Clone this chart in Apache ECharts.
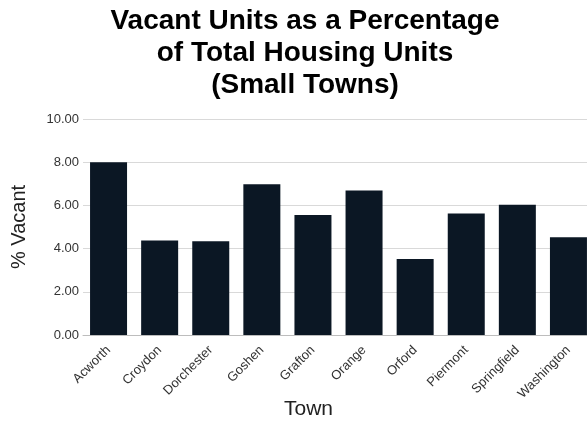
<!DOCTYPE html>
<html>
<head>
<meta charset="utf-8">
<script src="https://cdn.jsdelivr.net/npm/echarts@6/dist/echarts.min.js"></script>
<style>
  html, body { margin: 0; padding: 0; background: #fff; }
  #chart { width: 587px; height: 423px; }
</style>
</head>
<body>
<div id="chart"></div>
<script>
// Vacancy rates for small towns
const towns = ['Acworth', 'Croydon', 'Dorchester', 'Goshen', 'Grafton', 'Orange', 'Orford', 'Piermont', 'Springfield', 'Washington'];
const vacantPct = [8.00, 4.38, 4.34, 6.98, 5.55, 6.69, 3.52, 5.63, 6.03, 4.53];
const yTicks = { min: 0, max: 10, step: 2 };

const FONT = '"Liberation Sans", Arial, sans-serif';

const chart = echarts.init(document.getElementById('chart'), null, { renderer: 'canvas' });
chart.setOption({
  animation: false,
  backgroundColor: '#ffffff',
  title: {
    text: 'Vacant Units as a Percentage\nof Total Housing Units\n(Small Towns)',
    left: 300,
    top: 0,
    textAlign: 'center',
    textStyle: {
      fontFamily: FONT,
      fontSize: 28,
      fontWeight: 'bold',
      color: '#000000',
      lineHeight: 32
    }
  },
  grid: {
    left: 83, right: -7, top: 119, bottom: 88,
    containLabel: false,
    outerBoundsMode: 'none'
  },
  xAxis: {
    type: 'category',
    data: towns,
    name: 'Town',
    nameLocation: 'middle',
    nameGap: 64,
    nameMoveOverlap: false,
    nameTextStyle: { fontFamily: FONT, fontSize: 21, color: '#222222', padding: [0, 0, 0, -60] },
    axisTick: { show: false },
    axisLine: { lineStyle: { color: '#bdbdbd', width: 1 } },
    axisLabel: {
      rotate: 45,
      interval: 0,
      margin: 13,
      fontFamily: FONT,
      fontSize: 13,
      color: '#333333'
    }
  },
  yAxis: {
    type: 'value',
    min: yTicks.min,
    max: yTicks.max,
    interval: yTicks.step,
    name: '% Vacant',
    nameLocation: 'middle',
    nameGap: 54,
    nameMoveOverlap: false,
    nameTextStyle: { fontFamily: FONT, fontSize: 20, color: '#222222' },
    axisLine: { show: false },
    axisTick: { show: false },
    axisLabel: {
      formatter: v => v.toFixed(2),
      fontFamily: FONT,
      fontSize: 13,
      color: '#333333',
      margin: 4
    },
    splitLine: { lineStyle: { color: '#d9d9d9', width: 1 } }
  },
  series: [{
    type: 'bar',
    data: vacantPct,
    barWidth: 37,
    itemStyle: { color: '#0b1724' }
  }]
});
</script>
</body>
</html>
